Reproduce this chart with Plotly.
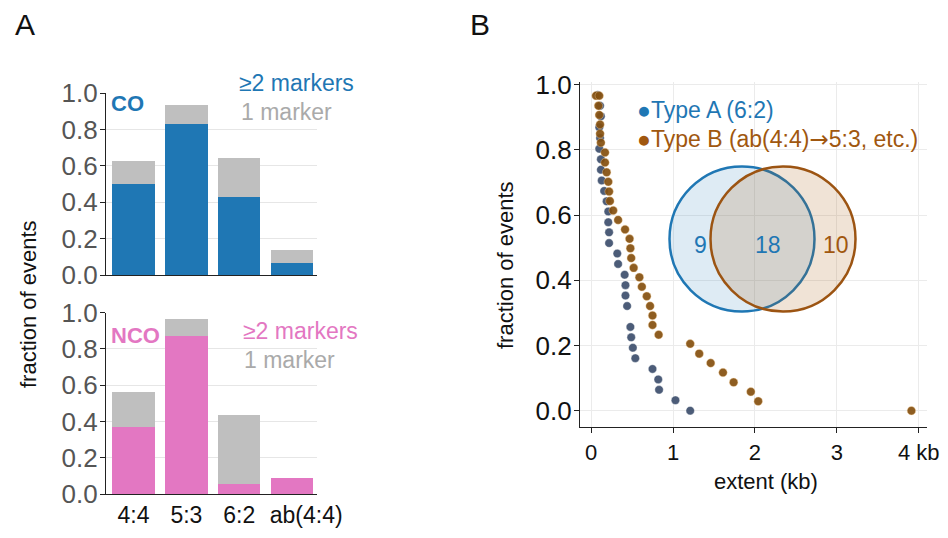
import plotly.graph_objects as go

W, H = 948, 538

# ---------------- data ----------------
categories = ["4:4", "5:3", "6:2", "ab(4:4)"]
co_multi = [0.50, 0.83, 0.43, 0.065]
co_single = [0.125, 0.105, 0.215, 0.07]
nco_multi = [0.37, 0.873, 0.057, 0.09]
nco_single = [0.19, 0.092, 0.38, 0.0]

typeA_x = [0.08, 0.11, 0.12, 0.10, 0.11, 0.10, 0.12, 0.12, 0.13, 0.16, 0.19, 0.21, 0.21, 0.22, 0.22,
           0.32, 0.33, 0.41, 0.42, 0.42, 0.44, 0.48, 0.49, 0.51, 0.54, 0.75, 0.82, 0.83, 1.03, 1.21]
typeA_y = [0.968, 0.935, 0.903, 0.869, 0.836, 0.803, 0.771, 0.739, 0.706, 0.674, 0.642, 0.611, 0.578,
           0.547, 0.514, 0.482, 0.450, 0.417, 0.385, 0.353, 0.321, 0.257, 0.225, 0.193, 0.161, 0.128,
           0.096, 0.064, 0.032, 0.0]
typeB_x = [0.06, 0.10, 0.09, 0.10, 0.11, 0.11, 0.12, 0.17, 0.17, 0.19, 0.21, 0.22, 0.23, 0.27, 0.33,
           0.415, 0.47, 0.48, 0.49, 0.52, 0.59, 0.62, 0.68, 0.72, 0.75, 0.75, 0.825, 1.21, 1.32, 1.46,
           1.61, 1.74, 1.95, 2.04, 3.91]
typeB_y = [0.966, 0.966, 0.935, 0.907, 0.878, 0.849, 0.822, 0.792, 0.761, 0.731, 0.702, 0.672, 0.643,
           0.614, 0.585, 0.556, 0.527, 0.498, 0.468, 0.438, 0.409, 0.380, 0.351, 0.321, 0.292, 0.263,
           0.233, 0.205, 0.175, 0.146, 0.117, 0.087, 0.058, 0.029, 0.0]

venn_counts = [9, 18, 10]
y_ticks = [0.0, 0.2, 0.4, 0.6, 0.8, 1.0]
x_ticks_b = [0, 1, 2, 3, 4]
x_ticktext_b = ["0", "1", "2", "3", "4 kb"]

# ---------------- style ----------------
BLUE = "#1f77b4"
PINK = "#e377c2"
GRAY = "#bfbfbf"
BROWN = "#a0570f"
DOT_A = "#3d4f6d"
DOT_B = "#85500f"
FONT = "Liberation Sans, Arial, Helvetica, sans-serif"
FS = 22


def px_x(p):
    return p / W


def px_y(p):
    return 1 - p / H


fig = go.Figure()

# Panel A top (CO)
fig.add_trace(go.Bar(x=categories, y=co_multi, marker_color=BLUE, width=0.8,
                     xaxis="x", yaxis="y", showlegend=False, marker_line_width=0))
fig.add_trace(go.Bar(x=categories, y=co_single, marker_color=GRAY, width=0.8,
                     xaxis="x", yaxis="y", showlegend=False, marker_line_width=0))
# Panel A bottom (NCO)
fig.add_trace(go.Bar(x=categories, y=nco_multi, marker_color=PINK, width=0.8,
                     xaxis="x2", yaxis="y2", showlegend=False, marker_line_width=0))
fig.add_trace(go.Bar(x=categories, y=nco_single, marker_color=GRAY, width=0.8,
                     xaxis="x2", yaxis="y2", showlegend=False, marker_line_width=0))

# Panel B scatter
fig.add_trace(go.Scatter(x=typeA_x, y=typeA_y, mode="markers", xaxis="x3", yaxis="y3",
                         marker=dict(color=DOT_A, size=8.5, opacity=0.92,
                                     line=dict(width=0.8, color="rgba(255,255,255,0.5)")),
                         showlegend=False))
fig.add_trace(go.Scatter(x=typeB_x, y=typeB_y, mode="markers", xaxis="x3", yaxis="y3",
                         marker=dict(color=DOT_B, size=8.5, opacity=0.92,
                                     line=dict(width=0.8, color="rgba(255,220,170,0.5)")),
                         showlegend=False))

axis_common = dict(showline=True, linecolor="#222", linewidth=1.3, zeroline=False,
                   automargin=False, tickangle=0,
                   tickfont=dict(family=FONT, size=FS, color="#111"))

A_X0, A_X1 = 106, 317
ytick_a_font = dict(family=FONT, size=26, color="#555")
ytick_b_font = dict(family=FONT, size=26, color="#111")
xtick_a_font = dict(family=FONT, size=23, color="#111")
fig.update_layout(
    width=W, height=H, autosize=False,
    margin=dict(l=0, r=0, t=0, b=0, autoexpand=False),
    paper_bgcolor="white", plot_bgcolor="white",
    barmode="stack", bargap=0.2,
    font=dict(family=FONT, size=FS, color="#111"),
    xaxis=dict(domain=[px_x(A_X0), px_x(A_X1)], anchor="y", type="category",
               categoryorder="array", categoryarray=categories,
               range=[-0.52, 3.47], showticklabels=False, ticks="", **axis_common),
    yaxis=dict(domain=[px_y(275), px_y(93.3)], anchor="x", range=[0, 1.0],
               tickvals=y_ticks, tickformat=".1f", ticks="outside", ticklen=5,
               tickcolor="#222", showgrid=True, gridcolor="#e6e6e6", gridwidth=1,
               ticklabelstandoff=-3,
               **{**axis_common, "tickfont": ytick_a_font}),
    xaxis2=dict(domain=[px_x(A_X0), px_x(A_X1)], anchor="y2", type="category",
                categoryorder="array", categoryarray=categories,
                tickvals=categories[:3], ticktext=categories[:3],
                range=[-0.52, 3.47], ticks="",
                **{**axis_common, "tickfont": xtick_a_font}),
    # separate overlaying axis only to shift the last (wide) category label slightly right
    xaxis4=dict(domain=[px_x(A_X0), px_x(A_X1)], anchor="y2", overlaying="x2", type="category",
                categoryorder="array", categoryarray=categories,
                tickvals=categories[3:], ticktext=categories[3:],
                range=[-0.52, 3.47], ticks="", showgrid=False, showline=True,
                linecolor="#222", linewidth=1.3,
                zeroline=False, automargin=False, tickangle=0, ticklabelshift=14,
                tickfont=xtick_a_font, side="bottom"),
    yaxis2=dict(domain=[px_y(494), px_y(312.7)], anchor="x2", range=[0, 1.0],
                tickvals=y_ticks, tickformat=".1f", ticks="outside", ticklen=5,
                tickcolor="#222", showgrid=True, gridcolor="#e6e6e6", gridwidth=1,
                ticklabelstandoff=-3,
                **{**axis_common, "tickfont": ytick_a_font}),
    xaxis3=dict(domain=[px_x(580), px_x(927)], anchor="y3", range=[-0.135, 4.1],
                tickvals=x_ticks_b, ticktext=x_ticktext_b, ticks="outside", ticklen=5,
                tickcolor="#222", showgrid=True, gridcolor="#ebebeb", gridwidth=1,
                **axis_common),
    yaxis3=dict(domain=[px_y(427), px_y(82)], anchor="x3", range=[-0.05, 1.008],
                tickvals=y_ticks, tickformat=".1f", ticks="outside", ticklen=5,
                tickcolor="#222", showgrid=True, gridcolor="#ebebeb", gridwidth=1,
                ticklabelstandoff=-3,
                **{**axis_common, "tickfont": ytick_b_font}),
)

# invisible anchor trace so the overlaying axis is drawn
fig.add_trace(go.Bar(x=categories, y=[0, 0, 0, 0], xaxis="x4", yaxis="y2",
                     showlegend=False, hoverinfo="skip", marker_color="rgba(0,0,0,0)"))

ann = []


def add_text(text, x, y, color="#111", size=FS, xanchor="center", yanchor="middle", angle=0):
    ann.append(dict(text=text, x=px_x(x), y=px_y(y), xref="paper", yref="paper",
                    showarrow=False, xanchor=xanchor, yanchor=yanchor, textangle=angle,
                    font=dict(family=FONT, size=size, color=color)))


ARROW = "<span style='font-family:DejaVu Sans'>→</span>"
add_text("A", 25, 25, size=30)
add_text("B", 480, 25, size=30)
add_text("<b>CO</b>", 109, 103, color=BLUE, xanchor="left")
add_text("≥2 markers", 237, 83, color=BLUE, xanchor="left", size=23)
add_text("1 marker", 239, 112, color="#aaaaaa", xanchor="left", size=23)
add_text("<b>NCO</b>", 109, 335, color=PINK, xanchor="left")
add_text("≥2 markers", 241, 331, color=PINK, xanchor="left", size=23)
add_text("1 marker", 242, 360, color="#aaaaaa", xanchor="left", size=23)
add_text("fraction of events", 28, 304, angle=-90)
add_text("fraction of events", 505, 265, angle=-90)
add_text("extent (kb)", 766, 481)
add_text("●Type A (6:2)", 635, 110, color=BLUE, xanchor="left", size=23)
add_text("●Type B (ab(4:4)" + ARROW + "5:3, etc.)", 635, 139, color=BROWN, xanchor="left", size=23)
add_text(str(venn_counts[0]), 700, 245, color=BLUE, size=23)
add_text(str(venn_counts[1]), 768, 245, color=BLUE, size=23)
add_text(str(venn_counts[2]), 836, 245, color=BROWN, size=23)

fig.update_layout(annotations=ann)

R = 72.5
shapes = [
    dict(type="circle", xref="paper", yref="paper",
         x0=px_x(742 - R), x1=px_x(742 + R), y0=px_y(239 + R), y1=px_y(239 - R),
         fillcolor="rgba(31,119,180,0.15)", line=dict(color=BLUE, width=2.5), layer="above"),
    dict(type="circle", xref="paper", yref="paper",
         x0=px_x(783 - R), x1=px_x(783 + R), y0=px_y(239 + R), y1=px_y(239 - R),
         fillcolor="rgba(166,86,13,0.17)", line=dict(color="#9c5412", width=2.5), layer="above"),
]
fig.update_layout(shapes=shapes)

fig.write_html("out.html", config={"displayModeBar": False},
               post_script="document.body.style.margin='0px';")
